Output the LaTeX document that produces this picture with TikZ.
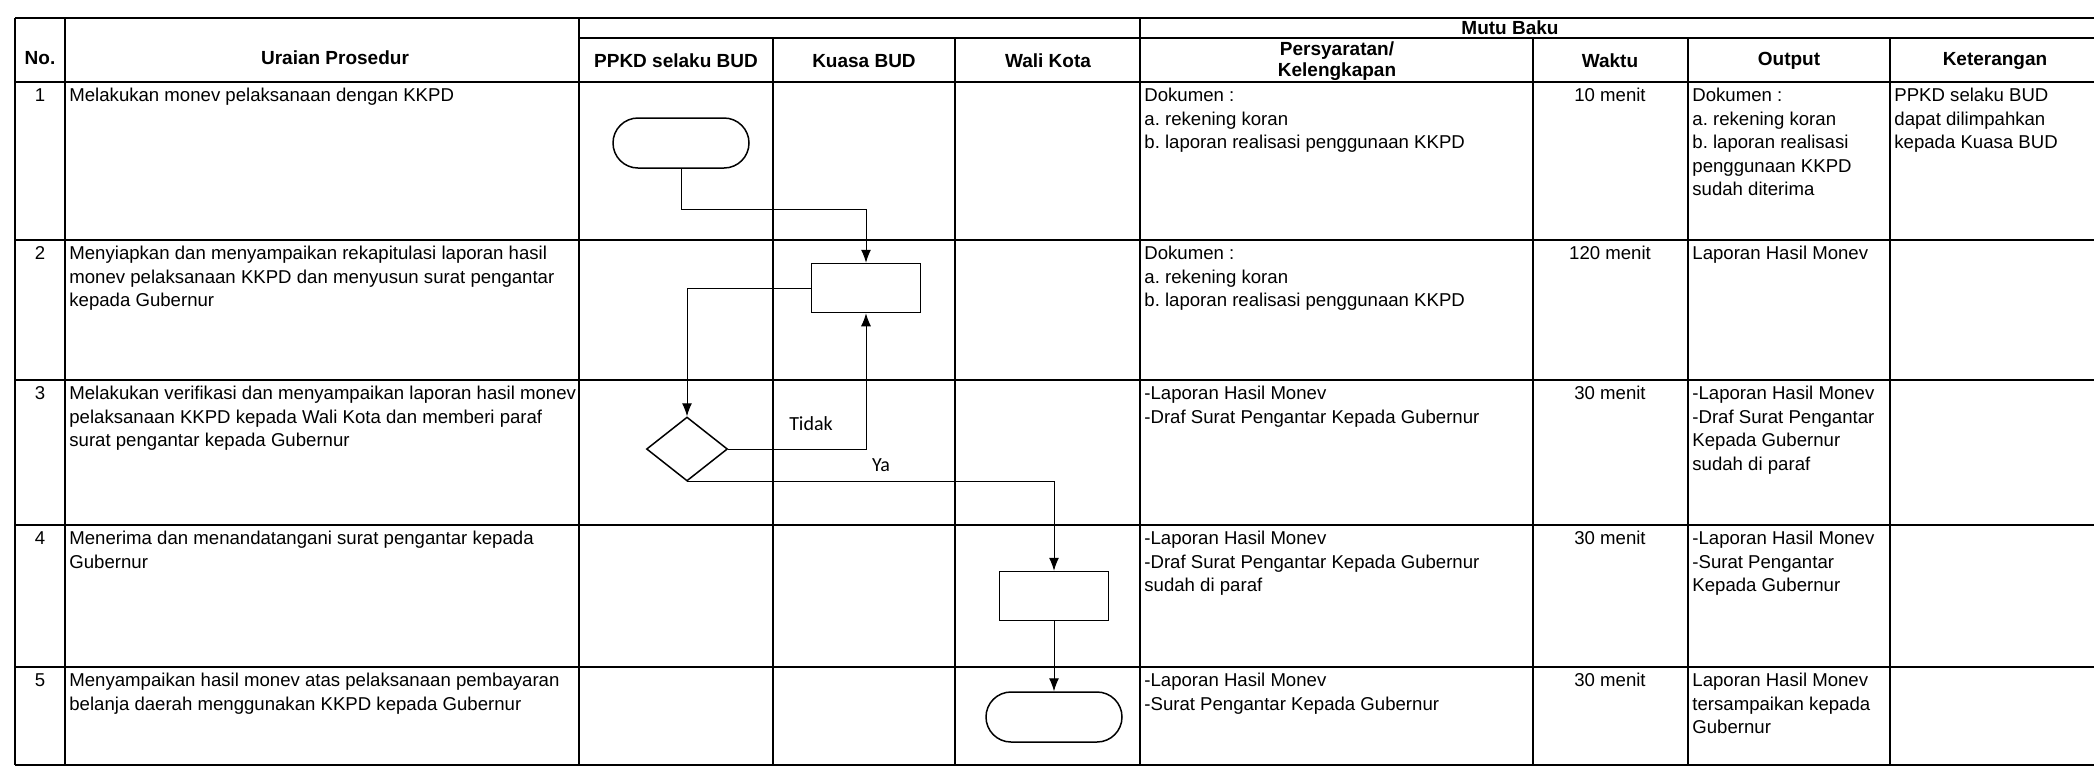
\documentclass[tikz,border=0pt]{standalone}
\usepackage{fontspec}
\setmainfont{Liberation Sans}
\newfontfamily\labelfont{Carlito}
\usepackage{tikz}
\usetikzlibrary{
	shapes.geometric,   %菱形
	shapes.misc,        %圆角矩形(起止框)
	arrows.meta,        %箭头
	positioning         %定位
}
\frenchspacing
\tikzset{
	every picture/.style={
		>={Latex[length=6.5pt,width=5pt]}
}}
\tikzset{
	tabline/.style={line width=0.9pt},
	txt/.style={anchor=north west, inner xsep=2pt, inner ysep=3pt, align=left,
		font=\fontsize{9.3}{11.75}\selectfont},
	ctxt/.style={txt, anchor=north, align=center},
	head/.style={align=center, inner sep=0pt, font=\fontsize{9.5}{10.5}\selectfont\bfseries},
	term/.style={draw, rounded rectangle, line width=0.75pt, minimum width=68pt,
		minimum height=25pt, inner sep=0pt},
	proc/.style={draw, rectangle, line width=0.75pt, minimum width=54.5pt,
		minimum height=24.5pt, inner sep=0pt},
	dec/.style={draw, diamond, line width=0.75pt, minimum width=40.5pt,
		minimum height=32pt, inner sep=0pt},
	flow/.style={->, line width=0.5pt},
	lbl/.style={font=\labelfont\fontsize{10}{12}\selectfont, inner sep=0pt}
}

\begin{document}
\begin{tikzpicture}[x=0.5pt, y=-0.5pt]
\useasboundingbox (0,0) rectangle (2094,768);
% 表格
\draw[tabline] (15,18) -- (2094,18);
\draw[tabline] (579,38) -- (2094,38);
\foreach \y in {82,240,380,525,667,765}
	\draw[tabline] (15,\y) -- (2094,\y);
\foreach \x in {15,65,579,1140}
	\draw[tabline] (\x,18) -- (\x,765);
\foreach \x in {773,955,1533,1688,1890}
	\draw[tabline] (\x,38) -- (\x,765);

% 表头
\node[head] (hno) at (40,58) {No.};
\node[head] (hur) at (335,58) {Uraian Prosedur};
\node[head] (hppkd) at (676,61) {PPKD selaku BUD};
\node[head] (hkuasa) at (864,61) {Kuasa BUD};
\node[head] (hwali) at (1048,61) {Wali Kota};
\node[head] (hmutu) at (1510,28) {Mutu Baku};
\node[head] (hsyarat) at (1337,61) {Persyaratan/\\Kelengkapan};
\node[head] (hwaktu) at (1610,61) {Waktu};
\node[head] (hout) at (1789,61) {Output};
\node[head] (hket) at (1995,61) {Keterangan};

% 第1行
\node[ctxt] (n1) at (40,82) {1};
\node[txt] (ur1) at (65,82) {Melakukan monev pelaksanaan dengan KKPD};
\node[txt] (sy1) at (1140,82) {Dokumen :\\a. rekening koran\\b. laporan realisasi penggunaan KKPD};
\node[ctxt] (wk1) at (1610,82) {10 menit};
\node[txt] (out1) at (1688,82) {Dokumen :\\a. rekening koran\\b. laporan realisasi\\penggunaan KKPD\\sudah diterima};
\node[txt] (ket1) at (1890,82) {PPKD selaku BUD\\dapat dilimpahkan\\kepada Kuasa BUD};

% 第2行
\node[ctxt] (n2) at (40,240) {2};
\node[txt] (ur2) at (65,240) {Menyiapkan dan menyampaikan rekapitulasi laporan hasil\\monev pelaksanaan KKPD dan menyusun surat pengantar\\kepada Gubernur};
\node[txt] (sy2) at (1140,240) {Dokumen :\\a. rekening koran\\b. laporan realisasi penggunaan KKPD};
\node[ctxt] (wk2) at (1610,240) {120 menit};
\node[txt] (out2) at (1688,240) {Laporan Hasil Monev};

% 第3行
\node[ctxt] (n3) at (40,380) {3};
\node[txt] (ur3) at (65,380) {Melakukan verifikasi dan menyampaikan laporan hasil monev\\pelaksanaan KKPD kepada Wali Kota dan memberi paraf\\surat pengantar kepada Gubernur};
\node[txt] (sy3) at (1140,380) {-Laporan Hasil Monev\\-Draf Surat Pengantar Kepada Gubernur};
\node[ctxt] (wk3) at (1610,380) {30 menit};
\node[txt] (out3) at (1688,380) {-Laporan Hasil Monev\\-Draf Surat Pengantar\\Kepada Gubernur\\sudah di paraf};

% 第4行
\node[ctxt] (n4) at (40,525) {4};
\node[txt] (ur4) at (65,525) {Menerima dan menandatangani surat pengantar kepada\\Gubernur};
\node[txt] (sy4) at (1140,525) {-Laporan Hasil Monev\\-Draf Surat Pengantar Kepada Gubernur\\sudah di paraf};
\node[ctxt] (wk4) at (1610,525) {30 menit};
\node[txt] (out4) at (1688,525) {-Laporan Hasil Monev\\-Surat Pengantar\\Kepada Gubernur};

% 第5行
\node[ctxt] (n5) at (40,667) {5};
\node[txt] (ur5) at (65,667) {Menyampaikan hasil monev atas pelaksanaan pembayaran\\belanja daerah menggunakan KKPD kepada Gubernur};
\node[txt] (sy5) at (1140,667) {-Laporan Hasil Monev\\-Surat Pengantar Kepada Gubernur};
\node[ctxt] (wk5) at (1610,667) {30 menit};
\node[txt] (out5) at (1688,667) {Laporan Hasil Monev\\tersampaikan kepada\\Gubernur};

% 流程图
\node[term] (t1) at (681,143) {};
\node[proc] (p2) at (866,288) {};
\node[dec] (d3) at (687,449) {};
\node[proc] (p4) at (1054,596) {};
\node[term] (t5) at (1054,717) {};

\draw[flow] (t1.south) -- ++(0,41) -| (p2.north);
\draw[flow] (p2.west) -| (d3.north);
\draw[flow] (d3.east) -| (p2.south);
\draw[flow] (d3.south) -| (p4.north);
\draw[flow] (p4.south) -- (t5.north);

\node[lbl] (tidak) at (811,424) {Tidak};
\node[lbl] (ya) at (881,465) {Ya};
\end{tikzpicture}
\end{document}
